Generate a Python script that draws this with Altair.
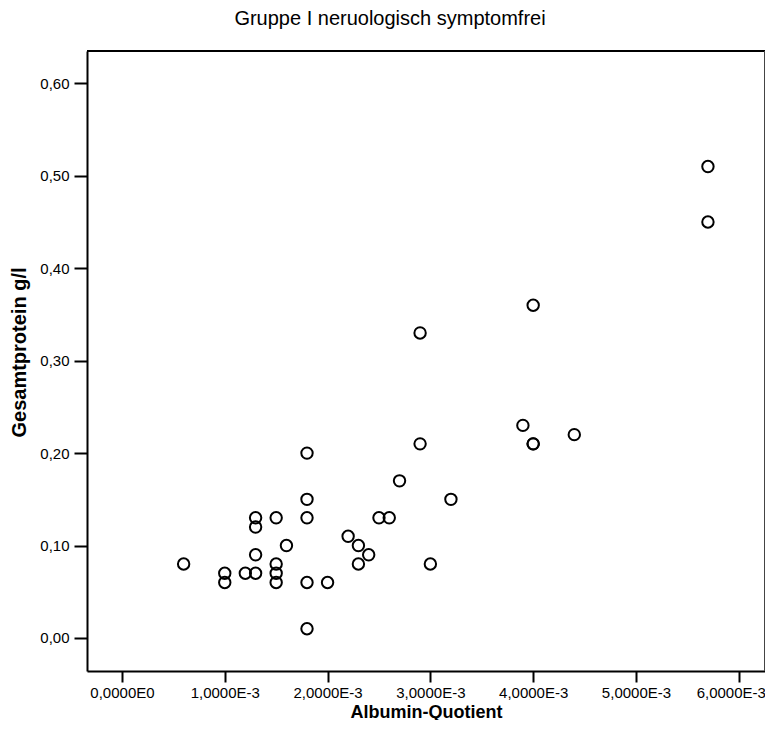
import altair as alt
import pandas as pd

albumin_quotient = [
    0.0006, 0.0010, 0.0010, 0.0012, 0.0013, 0.0013, 0.0013, 0.0013,
    0.0015, 0.0015, 0.0015, 0.0015, 0.0016, 0.0018, 0.0018, 0.0018,
    0.0018, 0.0018, 0.0020, 0.0022, 0.0023, 0.0023, 0.0024, 0.0025,
    0.0026, 0.0027, 0.0030, 0.0029, 0.0029, 0.0032, 0.0039, 0.0040,
    0.0040, 0.0040, 0.0044, 0.0057, 0.0057,
]
gesamtprotein = [
    0.08, 0.07, 0.06, 0.07, 0.07, 0.09, 0.12, 0.13,
    0.13, 0.08, 0.07, 0.06, 0.10, 0.06, 0.01, 0.13,
    0.15, 0.20, 0.06, 0.11, 0.10, 0.08, 0.09, 0.13,
    0.13, 0.17, 0.08, 0.21, 0.33, 0.15, 0.23, 0.21,
    0.21, 0.36, 0.22, 0.45, 0.51,
]

x_ticks = [0, 0.001, 0.002, 0.003, 0.004, 0.005, 0.006]
y_ticks = [0.0, 0.1, 0.2, 0.3, 0.4, 0.5, 0.6]

df = pd.DataFrame({"aq": albumin_quotient, "gp": gesamtprotein})

FONT = "Liberation Sans"
W, H = 678, 620

points = alt.Chart(df).mark_point(
    shape="circle", filled=False, size=130, strokeWidth=2, color="black", opacity=1
).encode(
    x=alt.X("aq:Q",
            scale=alt.Scale(domain=[-0.00034, 0.006255], nice=False, zero=False),
            axis=alt.Axis(values=x_ticks, title="Albumin-Quotient",
                          labelExpr="datum.value == 0 ? '0,0000E0' : replace(format(datum.value*1000, '.4f'), '.', ',') + 'E-3'",
                          labelOffset={"expr": "datum.value > 0.0059 ? -8 : 0"},
                          grid=False, domainColor="black", domainWidth=2,
                          tickColor="black", tickWidth=2, tickSize=11,
                          labelFont=FONT, labelFontSize=15, labelColor="black",
                          labelPadding=3,
                          titleFont=FONT, titleFontSize=18, titleFontWeight="bold",
                          titleColor="black", titleBaseline="alphabetic", titleY=46)),
    y=alt.Y("gp:Q",
            scale=alt.Scale(domain=[-0.0357, 0.635], nice=False, zero=False),
            axis=alt.Axis(values=y_ticks, title="Gesamtprotein g/l",
                          labelExpr="replace(format(datum.value, '.2f'), '.', ',')",
                          grid=False, domainColor="black", domainWidth=2,
                          tickColor="black", tickWidth=2, tickSize=13,
                          labelFont=FONT, labelFontSize=15, labelColor="black",
                          labelPadding=5,
                          titleFont=FONT, titleFontSize=20, titleFontWeight="bold",
                          titleColor="black", titlePadding=10, titleY=301)),
)

top_line = alt.Chart(df).mark_rule(color="black", strokeWidth=2).encode(
    x=alt.value(0), x2=alt.value(W), y=alt.value(0)
)
right_line = alt.Chart(df).mark_rule(color="#444444", strokeWidth=1.5).encode(
    x=alt.value(W), y=alt.value(0), y2=alt.value(H)
)

chart = alt.layer(points, top_line, right_line).properties(
    width=W,
    height=H,
    background="white",
    title=alt.TitleParams("Gruppe I neruologisch symptomfrei", font=FONT,
                          fontSize=20, fontWeight="normal", color="black",
                          anchor="middle", dx=-36, offset=21),
    autosize=alt.AutoSizeParams(type="none"),
    padding={"left": 79, "top": 43, "right": 0, "bottom": 49},
).configure_view(
    stroke=None
)

chart.save("out.html", embed_options={"renderer": "svg", "actions": False})
